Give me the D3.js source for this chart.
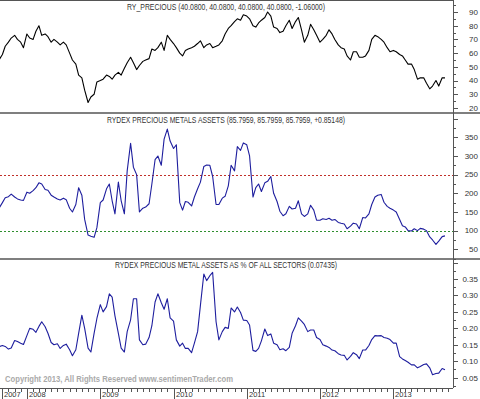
<!DOCTYPE html>
<html>
<head>
<meta charset="utf-8">
<script src="https://cdn.jsdelivr.net/npm/d3@7"></script>
<style>
  html, body { margin: 0; padding: 0; background: #fff; }
  svg { display: block; font-family: "Liberation Sans", Arial, sans-serif; }
</style>
</head>
<body>
<svg id="chart" width="480" height="399"></svg>
<script>
// semi-monthly sample dates, 15 Aug 2007 .. 15 Sep 2013
const dates = d3.timeMonth.range(new Date(2007, 7, 1), new Date(2013, 8, 2))
    .flatMap(m => [m, d3.timeDay.offset(m, 14)])
    .slice(1);

const ryPrecious = [
    55,59,65,68,71,73,70,68,64,74, 71,70,76,80,73,74,72,68,70,68,
    66,68,66,60,55,52,44,42,33,24, 28,30,39,40,41,44,43,41,44,46,
    44,49,53,57,53,48,51,54,55,56, 63,62,64,68,62,73,70,67,64,60,
    58,62,63,64,65,67,69,64,66,67, 64,65,66,69,74,78,80,83,85,84,
    88,87,85,80,79,82,84,86,90,87, 79,78,75,76,80,84,78,83,86,77,
    68,73,81,77,73,68,70,73,77,74, 70,66,64,63,58,55,61,61,57,57,
    58,62,70,73,72,70,68,64,61,62, 61,59,58,55,52,52,48,41,42,42,
    38,34,36,40,36,42,42
];

const metalsAssets = [
    160,175,188,191,198,190,185,182,181,203, 200,207,215,228,225,210,208,195,190,185,
    182,187,183,160,150,170,215,195,130,88,  85,82,108,175,182,212,225,180,145,230,
    180,145,260,334,270,250,150,160,163,172, 225,290,300,275,345,372,340,320,330,175,
    155,178,176,166,190,212,230,272,276,275, 245,170,170,187,192,220,275,260,325,315,
    335,330,300,190,215,225,205,228,232,245, 200,178,152,140,145,165,158,160,180,145,
    138,145,168,155,128,128,132,130,133,128, 130,122,120,118,105,112,120,118,105,135,
    134,145,170,190,195,197,176,165,160,155, 150,130,113,110,100,99,105,100,106,104,
    100,83,75,63,72,84,86
];

const metalsShare = [
    .144,.148,.145,.137,.140,.163,.160,.155,.151,.178, .200,.197,.188,.206,.220,.205,.185,.157,.150,.153,
    .139,.148,.152,.135,.117,.135,.185,.240,.200,.140, .128,.185,.230,.272,.250,.266,.305,.295,.238,.185,
    .140,.128,.190,.226,.290,.290,.165,.150,.152,.172, .208,.280,.305,.278,.258,.290,.232,.222,.165,.146,
    .155,.139,.139,.126,.155,.190,.270,.365,.345,.360, .370,.220,.165,.190,.203,.200,.262,.250,.265,.248,
    .225,.224,.210,.133,.130,.139,.162,.198,.178,.183, .155,.150,.135,.138,.132,.142,.185,.208,.232,.222,
    .212,.190,.195,.195,.172,.166,.150,.146,.142,.134, .132,.123,.119,.118,.104,.115,.126,.120,.108,.134,
    .134,.148,.166,.178,.177,.178,.172,.170,.166,.155, .155,.114,.107,.102,.097,.089,.089,.080,.084,.090,
    .092,.080,.059,.063,.064,.078,.074
];

const ryTicks = [20, 30, 40, 50, 60, 70, 80, 90, 100];
const assetTicks = [50, 100, 150, 200, 250, 300, 350, 400];
const shareTicks = [0.05, 0.10, 0.15, 0.20, 0.25, 0.30, 0.35, 0.40];
const assetRefLines = [{value: 250, color: "#c0302a"}, {value: 100, color: "#2f8f2f"}];

const titles = [
    "RY_PRECIOUS (40.0800, 40.0800, 40.0800, 40.0800, -1.06000)",
    "RYDEX PRECIOUS METALS ASSETS (85.7959, 85.7959, 85.7959, +0.85148)",
    "RYDEX PRECIOUS METAL ASSETS AS % OF ALL SECTORS (0.07435)"
];
const copyright = "Copyright 2013, All Rights Reserved  www.sentimenTrader.com";

const svg = d3.select("#chart"),
    plotRight = 453,
    axisY = 388,
    frameColor = "#555",
    textColor = "#333";

const x = d3.scaleTime()
    .domain([new Date(2007, 7, 20), new Date(2013, 9, 25)])
    .range([0, plotRight]);

const panels = [
    {top: 1, bottom: 113, scale: d3.scaleLinear().domain([20, 90]).range([108, 12]),
        values: ryPrecious, ticks: ryTicks, fmt: d3.format("d"), color: "#000", width: 1.1,
        title: titles[0], titleX: 127, titleY: 10, titleW: 198},
    {top: 113, bottom: 259, scale: d3.scaleLinear().domain([50, 350]).range([249.3, 137.3]),
        values: metalsAssets, ticks: assetTicks, fmt: d3.format("d"), color: "#1e1e9e", width: 1.1,
        title: titles[1], titleX: 107, titleY: 123, titleW: 238, refs: assetRefLines},
    {top: 259, bottom: axisY, scale: d3.scaleLinear().domain([0.05, 0.35]).range([377.7, 279]),
        values: metalsShare, ticks: shareTicks, fmt: d3.format(".2f"), color: "#1e1e9e", width: 1.1,
        title: titles[2], titleX: 115, titleY: 268, titleW: 222}
];

panels.forEach((p, i) => {
    const clipId = `clip-${i}`;
    svg.append("clipPath").attr("id", clipId)
        .append("rect")
        .attr("x", 0).attr("y", p.top)
        .attr("width", plotRight).attr("height", p.bottom - p.top);

    const g = svg.append("g");

    // dotted reference levels
    (p.refs || []).forEach(r => {
        const y = Math.round(p.scale(r.value)) + 0.5;
        g.append("line")
            .attr("x1", 0).attr("x2", plotRight)
            .attr("y1", y).attr("y2", y)
            .attr("stroke", r.color)
            .attr("stroke-dasharray", "2,2");
    });

    const line = d3.line()
        .x((d, j) => x(dates[j]))
        .y(d => p.scale(d));

    g.append("path")
        .datum(p.values)
        .attr("clip-path", `url(#${clipId})`)
        .attr("fill", "none")
        .attr("stroke", p.color)
        .attr("stroke-width", p.width)
        .attr("stroke-linejoin", "round")
        .attr("d", line);

    // right axis: major ticks with labels, minor ticks in between
    const inside = v => {
        const y = p.scale(v);
        return y > p.top && y < p.bottom;
    };
    const step = p.ticks[1] - p.ticks[0];
    const minor = d3.range(p.ticks[0] - step / 2, p.ticks[p.ticks.length - 1] + step, step).filter(inside);
    const major = p.ticks.filter(inside);

    g.selectAll(null).data(minor).enter().append("line")
        .attr("x1", plotRight).attr("x2", plotRight + 3)
        .attr("y1", d => Math.round(p.scale(d)) + 0.5)
        .attr("y2", d => Math.round(p.scale(d)) + 0.5)
        .attr("stroke", frameColor);

    g.selectAll(null).data(major).enter().append("line")
        .attr("x1", plotRight).attr("x2", plotRight + 5)
        .attr("y1", d => Math.round(p.scale(d)) + 0.5)
        .attr("y2", d => Math.round(p.scale(d)) + 0.5)
        .attr("stroke", frameColor);

    g.selectAll(null).data(major.filter(d => p.scale(d) > p.top + 8)).enter().append("text")
        .attr("x", 478)
        .attr("y", d => p.scale(d) + 2.8)
        .attr("text-anchor", "end")
        .attr("font-size", 8)
        .attr("fill", textColor)
        .text(p.fmt);

    g.append("text")
        .attr("x", p.titleX).attr("y", p.titleY)
        .attr("font-size", 8.5)
        .attr("fill", textColor)
        .attr("textLength", p.titleW)
        .attr("lengthAdjust", "spacingAndGlyphs")
        .text(p.title);
});

// frame: top border, panel dividers, right axis line
svg.append("line").attr("x1", 0).attr("x2", plotRight).attr("y1", 0.5).attr("y2", 0.5)
    .attr("stroke", frameColor);
[113, 259].forEach(y => {
    svg.append("line").attr("x1", 0).attr("x2", 480).attr("y1", y).attr("y2", y)
        .attr("stroke", frameColor).attr("stroke-width", 1.5);
});
svg.append("line").attr("x1", plotRight + 0.5).attr("x2", plotRight + 0.5)
    .attr("y1", 0).attr("y2", axisY)
    .attr("stroke", frameColor);

// bottom time axis
svg.append("line").attr("x1", 0).attr("x2", plotRight).attr("y1", axisY + 0.5).attr("y2", axisY + 0.5)
    .attr("stroke", frameColor);

const months = d3.timeMonth.range(new Date(2007, 8, 1), x.domain()[1]);
svg.selectAll(null).data(months).enter().append("line")
    .attr("x1", d => Math.round(x(d)) + 0.5)
    .attr("x2", d => Math.round(x(d)) + 0.5)
    .attr("y1", axisY)
    .attr("y2", d => (d.getMonth() === 0 || +d === +months[0]) ? 399 : axisY + 4)
    .attr("stroke", frameColor);

const yearMarks = [months[0]].concat(d3.timeYear.range(new Date(2008, 0, 1), x.domain()[1]));
svg.selectAll(null).data(yearMarks).enter().append("text")
    .attr("x", d => Math.round(x(d)) + 2)
    .attr("y", 397)
    .attr("font-size", 7.5)
    .attr("fill", textColor)
    .text((d, i) => i === 0 ? "2007" : d.getFullYear());

svg.append("text")
    .attr("x", 5).attr("y", 381.5)
    .attr("font-size", 8.5)
    .attr("font-weight", "bold")
    .attr("fill", "#aaa")
    .attr("textLength", 228)
    .attr("lengthAdjust", "spacingAndGlyphs")
    .text(copyright);
</script>
</body>
</html>
